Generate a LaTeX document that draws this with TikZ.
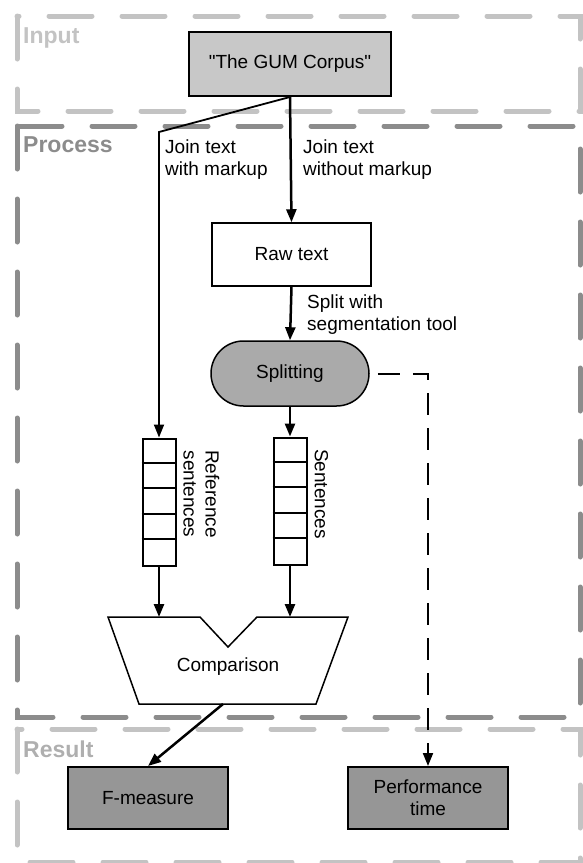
\documentclass[tikz,border=0pt]{standalone}
\usepackage{fontspec}
\setmainfont{Liberation Sans}
\usepackage{xcolor}
\definecolor{boxlight}{RGB}{200,200,200}
\definecolor{boxmid}{RGB}{170,170,170}
\definecolor{boxdark}{RGB}{150,150,150}
\definecolor{zonelight}{RGB}{195,195,195}
\definecolor{zonedark}{RGB}{140,140,140}
\usetikzlibrary{arrows.meta,positioning}

\begin{document}
\begin{tikzpicture}[x=1pt,y=-1pt,
  every node/.style={font=\fontsize{19}{22}\selectfont},
  zone/.style={line width=5pt,dash pattern=on 43pt off 30pt,line cap=round},
  zonelabel/.style={font=\fontsize{23}{26}\selectfont\bfseries,anchor=base west,inner sep=0pt},
  box/.style={draw,line width=2pt,minimum width=160pt,minimum height=62pt,inner sep=0pt,align=center},
  flow/.style={-{Triangle[length=13pt,width=10pt]},line width=2.5pt},
  note/.style={anchor=north west,inner sep=0pt,align=left},
  queue/.style={draw,line width=2pt,minimum width=33pt,minimum height=127pt,inner sep=0pt}]
  \useasboundingbox (0,0) rectangle (582,863);
  % zones
  \draw[zone,zonelight] (17,16) rectangle (580,111);
  \draw[zone,zonedark] (17,126) rectangle (580,717);
  \draw[zone,zonelight] (17,729) rectangle (580,862);
  \node[zonelabel,text=zonelight] (lin) at (23,43) {Input};
  \node[zonelabel,text=zonedark] (lproc) at (23,152) {Process};
  \node[zonelabel,text=zonelight!90!black] (lres) at (23,757) {Result};

  \node[box,fill=boxlight,minimum width=202pt,minimum height=64pt] (gum) at (290,64) {\textquotedbl The GUM Corpus\textquotedbl};
  \node[box,fill=white,minimum width=159pt,minimum height=63pt,line width=1.5pt] (raw) at (291.5,254.5) {Raw text};
  \node[box,fill=boxmid,minimum width=158pt,minimum height=65pt,rounded corners=32.5pt,line width=1.5pt] (split) at (290,373.5) {Splitting};
  \node[queue] (refq) at (159,502) {};
  \node[queue] (sentq) at (290,501) {};
  \foreach \k in {1,...,4} {
    \draw[line width=2pt] ([yshift=-25.4*\k pt]refq.north west) -- ([yshift=-25.4*\k pt]refq.north east);
    \draw[line width=2pt] ([yshift=-25.4*\k pt]sentq.north west) -- ([yshift=-25.4*\k pt]sentq.north east);
  }
  \node[rotate=-90,align=center,inner sep=0pt] (reflab) at (201.5,494) {Reference\\sentences};
  \node[rotate=-90,inner sep=0pt] (sentlab) at (321.5,494) {Sentences};

  % comparison
  \draw[line width=1.5pt] (108,617) -- (200,617) -- (228,647) -- (257,617) -- (348,617) -- (316,704) -- (139,704) -- cycle;
  \node (cmp) at (228,667) {Comparison};
  \coordinate (cmpL) at (159,617);
  \coordinate (cmpR) at (290,617);
  \coordinate (cmpB) at (223,704);

  \node[box,fill=boxdark] (fmeas) at (148,798) {F-measure};
  \node[box,fill=boxdark] (perf) at (428,798) {Performance\\time};

  % connectors
  \coordinate (bend) at (159,132);
  \draw[flow,line width=1.8pt] (gum.south) -- (bend) -- (refq.north);
  \draw[flow] (gum.south) -- (raw.north);
  \draw[flow] (raw.south) -- (split.north);
  \draw[flow] (split.south) -- (sentq.north);
  \draw[flow] (refq.south) -- (cmpL);
  \draw[flow] (sentq.south) -- (cmpR);
  \draw[flow] (cmpB) -- (fmeas.north);
  \draw[flow,line width=2pt,dash pattern=on 22pt off 13pt] ([xshift=8pt]split.east) -| (perf.north);

  \node[note] (jw) at (165,140) {Join text\\with markup};
  \node[note] (jwo) at (303,140) {Join text\\without markup};
  \node[note] (sw) at (307,295) {Split with\\segmentation tool};
\end{tikzpicture}
\end{document}
